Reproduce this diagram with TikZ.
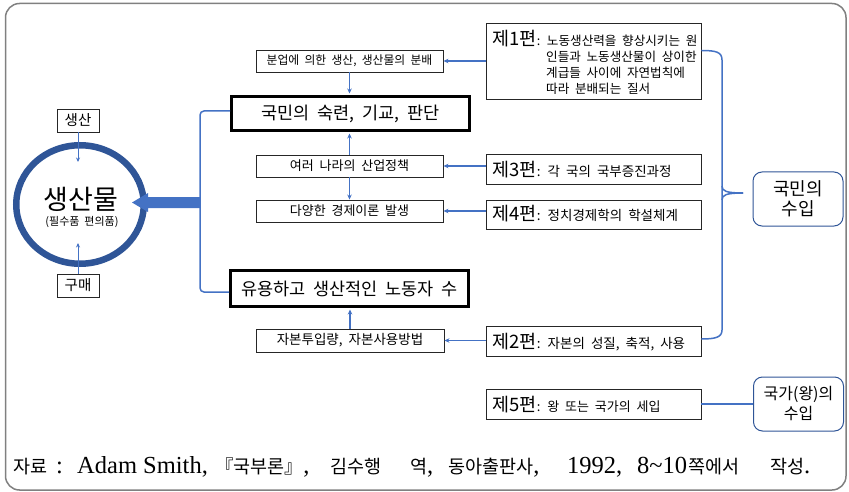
\documentclass[tikz,border=0pt]{standalone}
\usepackage{fontspec}
\setmainfont{Noto Sans CJK KR}[WordSpace=2]
\newfontfamily\sr{Liberation Serif}
\usetikzlibrary{arrows.meta,shapes.geometric}
\definecolor{bl}{HTML}{4472C4}
\definecolor{dbl}{HTML}{2F5597}
\newcommand{\fsz}[1]{\fontsize{#1}{#1}\selectfont}
\newcommand{\srf}[1]{{\sr\fontsize{24.5}{24.5}\selectfont #1}}
\begin{document}
\begin{tikzpicture}[x=1pt,y=-1pt,
  box/.style={draw=black!85, line width=0.9pt, minimum height=22pt, minimum width=187pt, inner sep=0pt},
  tbox/.style={draw=black, line width=3pt, minimum width=238pt, minimum height=34pt, inner sep=0pt},
  pbox/.style={draw=black!85, line width=0.9pt, minimum width=215pt, inner sep=0pt},
  rbox/.style={draw=dbl, line width=1pt, rounded corners=9pt, minimum width=90pt, minimum height=54pt, align=center, inner sep=0pt},
  arr/.style={draw=bl, line width=1.3pt, -{Stealth[length=5pt,width=4.5pt]}},
  thinarr/.style={draw=bl, line width=1pt, -{Stealth[length=4.5pt,width=4pt]}},
  link/.style={draw=bl, line width=1.5pt},
  lbl/.style={inner sep=0pt, anchor=base west},
  capk/.style={inner sep=0pt, anchor=base west, font=\fontsize{18.5}{18.5}\selectfont},
  capl/.style={inner sep=0pt, anchor=base west, font=\sr\fontsize{24.5}{24.5}\selectfont},
]
\useasboundingbox (0,0) rectangle (849,492);
\draw[draw=black!50, line width=1.5pt, rounded corners=14pt] (5.5,3.5) rectangle (846,490);

% centre boxes
\node[box] (b1) at (349.5,61) {\fsz{11.8}분업에 의한 생산, 생산물의 분배};
\node[tbox] (b2) at (350.5,113.5) {\fsz{17.5}국민의 숙련, 기교, 판단};
\node[box] (b3) at (349.5,166) {\fsz{13}여러 나라의 산업정책};
\node[box] (b4) at (349.5,211) {\fsz{13}다양한 경제이론 발생};
\node[tbox, minimum height=36pt] (b5) at (349.5,288.5) {\fsz{17.5}유용하고 생산적인 노동자 수};
\node[box, minimum width=188pt, minimum height=23pt] (b6) at (350,340.5) {\fsz{13.5}자본투입량, 자본사용방법};

% book boxes
\node[pbox, minimum height=76pt] (p1) at (593.5,61) {};
\node[pbox, minimum height=30pt] (p3) at (593.5,169) {};
\node[pbox, minimum height=29pt] (p4) at (593.5,214.5) {};
\node[pbox, minimum height=30pt] (p2) at (593.5,341) {};
\node[pbox, minimum height=30pt] (p5) at (593.5,404) {};

\node[lbl] (h1) at (492,46) {\fsz{18.5}제1편};
\node[lbl] (s1) at (h1.base east) {\fsz{12.6}: 노동생산력을 향상시키는 원};
\node[lbl] (s1b) at (546,62) {\fsz{12.6}인들과 노동생산물이 상이한};
\node[lbl] (s1c) at (546,78) {\fsz{12.6}계급들 사이에 자연법칙에};
\node[lbl] (s1d) at (546,93.5) {\fsz{12.6}따라 분배되는 질서};
\node[lbl] (h3) at (492,176.5) {\fsz{18.5}제3편};
\node[lbl] (s3) at (h3.base east) {\fsz{13.5}: 각 국의 국부증진과정};
\node[lbl] (h4) at (492,220.5) {\fsz{18.5}제4편};
\node[lbl] (s4) at (h4.base east) {\fsz{13.5}: 정치경제학의 학설체계};
\node[lbl] (h2) at (492,348.5) {\fsz{18.5}제2편};
\node[lbl] (s2) at (h2.base east) {\fsz{13.5}: 자본의 성질, 축적, 사용};
\node[lbl] (h5) at (492,411) {\fsz{18.5}제5편};
\node[lbl] (s5) at (h5.base east) {\fsz{13}: 왕 또는 국가의 세입};

% income boxes
\node[rbox, font=\fontsize{18}{19.5}\selectfont] (ni) at (798,199) {국민의\\수입};
\node[rbox, font=\fontsize{16}{20}\selectfont] (gi) at (798.5,404) {국가(왕)의\\수입};

% arrows
\draw[arr] (p1.west) -- (b1.east);
\draw[arr, shorten >=1.5pt] (b1.south) -- (b1.south |- b2.north);
\draw[arr, shorten >=1.5pt] (b3.north) -- (b3.north |- b2.south);
\draw[arr] (b3.south) -- (b4.north);
\draw[arr] (p3.west |- b3.east) -- (b3.east);
\draw[arr] (p4.west |- b4.east) -- (b4.east);
\draw[arr, shorten >=1.5pt] (b6.north) -- (b6.north |- b5.south);
\draw[arr] (p2.west |- b6.east) -- (b6.east);

% brace
\coordinate (tip) at (743,193);
\draw[link] (p1.east |- 0,50.5) .. controls (716,50.5) and (722,52) .. (722,60) -- (722,330) .. controls (722,337) and (716,339) .. (p2.east |- 0,339);
\draw[link] (722,186) .. controls (722,191) and (726,193) .. (tip);
\draw[link] (722,200) .. controls (722,195) and (726,193) .. (tip);
\draw[link] (p5.east) -- (gi.west);

% product circle
\node[draw=dbl, line width=6.5pt, ellipse, minimum width=127.5pt, minimum height=118.5pt, inner sep=0pt] (c) at (80,204.5) {};
\node[inner sep=0pt] (ct) at (81,199) {\fsz{27}생산물};
\node[inner sep=0pt] (cs) at (82,222) {\fsz{11}(필수품 편의품)};
\node[box, minimum width=42pt, minimum height=23pt] (sa) at (78,120.5) {\fsz{14.5}생산};
\node[box, minimum width=42pt, minimum height=23pt] (gm) at (78,285.5) {\fsz{14.5}구매};
\coordinate (sae) at (78,162);
\coordinate (gme) at (78,243);
\draw[thinarr] (sa.south) -- (sae);
\draw[thinarr] (gm.north) -- (gme);

% left bracket and big arrow
\coordinate (jn) at (200,202.5);
\draw[link, rounded corners=4pt] ([yshift=2.5pt]b2.west) -- (200,111) -- (200,292) -- ([yshift=-3.5pt]b5.west);
\fill[bl] (jn) ++(0,-5.5) -- (148,197) -- (148,193) -- (132,202.5) -- (148,212) -- (148,208) -- (200,208) -- cycle;

% caption
\node[capk] (cap1) at (13,473) {자료};
\node[capl] (cap2) at (56,473) {:};
\node[capl] (cap3) at (77,473) {Adam Smith,};
\node[capk] (cap4) at (215,473) {『국부론』\srf{,}};
\node[capk] (cap5) at (330,473) {김수행};
\node[capk] (cap6) at (410,473) {역\srf{,}};
\node[capk] (cap7) at (448,473) {동아출판사\srf{,}};
\node[capl] (cap8) at (567,473) {1992,};
\node[capl] (cap9) at (637,473) {8\textasciitilde10};
\node[capk] (cap10) at (688,473) {쪽에서};
\node[capk] (cap11) at (770,473) {작성\srf{.}};
\end{tikzpicture}
\end{document}
